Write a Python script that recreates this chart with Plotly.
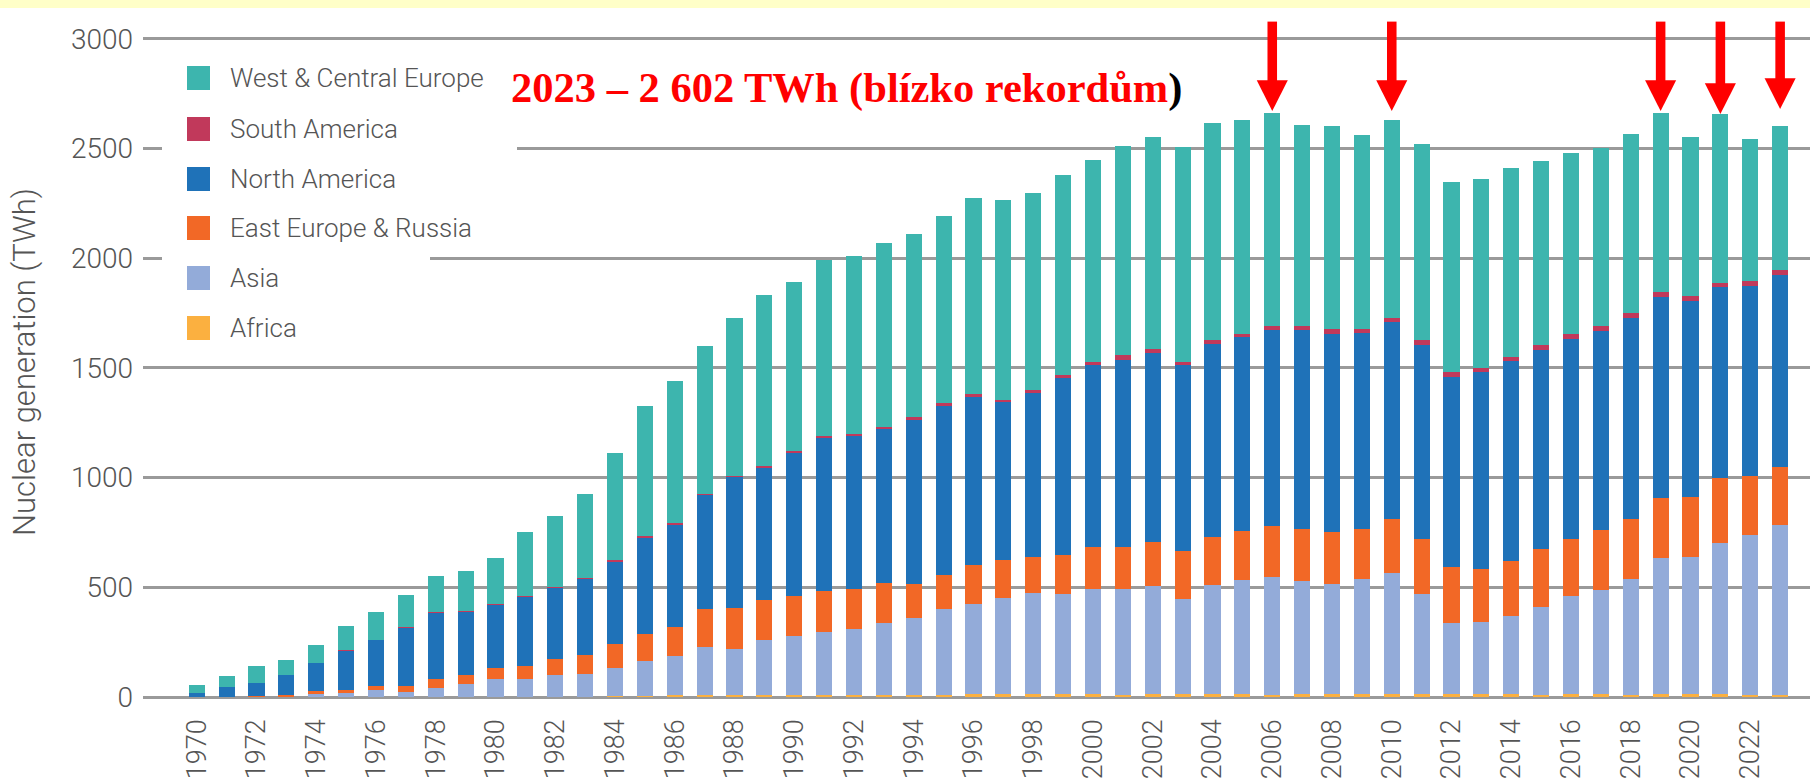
import plotly.graph_objects as go

years = list(range(1970, 2024))
africa = [0, 0, 0, 0, 0, 0, 0, 0, 0, 0, 0, 0, 0, 0,
          5, 5, 9, 7, 11, 11, 8, 9, 10, 7, 9, 11, 12, 12, 14, 13,
          13, 11, 12, 13, 14, 12, 10, 12, 13, 12, 12, 13, 12, 14,
          14, 11, 15, 15, 10, 14, 12, 12, 10, 8]
asia = [1, 2, 3, 4, 12, 18, 31, 21, 43, 58, 81, 81, 99, 107,
        128, 159, 180, 220, 208, 250, 271, 289, 298, 332, 351, 388, 411, 441, 459, 455,
        478, 483, 493, 434, 498, 523, 539, 518, 504, 527, 555, 458, 327, 328,
        353, 399, 446, 472, 529, 621, 626, 688, 728, 774]
east_europe = [0, 0, 3, 4, 14, 12, 20, 29, 38, 41, 49, 61, 75, 84,
               108, 121, 129, 176, 188, 182, 183, 183, 183, 182, 157, 159, 180, 173, 165, 177,
               191, 191, 203, 217, 215, 221, 229, 237, 235, 228, 246, 249, 253, 242,
               253, 266, 259, 273, 274, 274, 275, 297, 271, 267]
north_america = [15, 44, 60, 91, 128, 180, 209, 268, 304, 292, 291, 315, 323, 349,
                 376, 444, 470, 518, 596, 605, 649, 701, 701, 703, 748, 772, 766, 720, 749, 811,
                 832, 852, 860, 847, 884, 884, 894, 905, 904, 892, 895, 885, 868, 895,
                 910, 906, 911, 907, 913, 913, 891, 871, 863, 873]
south_america = [0, 0, 0, 0, 0, 2, 1, 1, 1, 3, 4, 5, 5, 3,
                 7, 6, 4, 2, 6, 7, 10, 7, 8, 8, 9, 9, 12, 9, 12, 10,
                 12, 20, 18, 18, 18, 15, 18, 18, 19, 19, 18, 22, 22, 21,
                 19, 21, 22, 23, 23, 23, 23, 21, 22, 23]
west_central_europe = [37, 49, 75, 71, 81, 112, 125, 148, 164, 180, 210, 292, 325, 382,
                       490, 593, 647, 676, 719, 778, 769, 802, 809, 839, 838, 852, 893, 909, 899, 914,
                       921, 955, 967, 976, 988, 973, 973, 918, 925, 881, 903, 891, 863, 859,
                       861, 838, 824, 812, 815, 815, 725, 766, 650, 657]

series_names = ["Africa", "Asia", "East Europe & Russia", "North America",
                "South America", "West & Central Europe"]
series_values = [africa, asia, east_europe, north_america, south_america, west_central_europe]
series_colors = ["#FBB040", "#93ABD9", "#F26826", "#1F72B8", "#C1395B", "#3DB5AE"]

tick_years = list(range(1970, 2023, 2))
y_ticks = [0, 500, 1000, 1500, 2000, 2500, 3000]

arrow_years = [2006, 2010, 2019, 2021, 2023]
arrow_tips = [2671, 2671, 2671, 2657, 2680]

title_text = "2023 – 2 602 TWh (blízko rekordům"
y_title = "Nuclear generation (TWh)"

# ---- layout geometry (pixels) ----
W, H = 1810, 780
L, R, T, B = 143, 0, 8, 83
PW, PH = W - L - R, H - T - B
PB = H - B


def px(xp):
    return (xp - L) / PW


def py(yp):
    return (PB - yp) / PH


FONT = "Roboto, Liberation Sans, Arial, sans-serif"
GREY = "#555555"

fig = go.Figure()
for name, vals, col in zip(series_names, series_values, series_colors):
    fig.add_trace(go.Bar(x=years, y=vals, name=name, marker_color=col,
                         marker_line_width=0, showlegend=False))

shapes = []
# yellow band at very top
shapes.append(dict(type="rect", xref="paper", yref="paper", x0=px(0), x1=px(W),
                   y0=py(T), y1=py(0), fillcolor="#FFFFC8", line_width=0, layer="above"))
# white masks behind legend (gridline gaps)
shapes.append(dict(type="rect", xref="paper", yref="paper", x0=px(162), x1=px(517),
                   y0=py(205), y1=py(60), fillcolor="white", line_width=0, layer="above"))
shapes.append(dict(type="rect", xref="paper", yref="paper", x0=px(162), x1=px(430),
                   y0=py(355), y1=py(205), fillcolor="white", line_width=0, layer="above"))

annotations = []
# legend (top-down order)
legend_rows = [78, 129, 179, 228, 278, 328]
for i, (name, col) in enumerate(zip(series_names[::-1], series_colors[::-1])):
    yc = legend_rows[i]
    shapes.append(dict(type="rect", xref="paper", yref="paper", x0=px(187), x1=px(210),
                       y0=py(yc + 12), y1=py(yc - 12), fillcolor=col, line_width=0, layer="above"))
    annotations.append(dict(text=name, xref="paper", yref="paper", x=px(228), y=py(yc),
                            xanchor="left", yanchor="middle", showarrow=False,
                            font=dict(family=FONT, size=26, color=GREY, weight=300)))

# arrows
for yr, tip in zip(arrow_years, arrow_tips):
    head = tip + 140
    top = 3078
    shapes.append(dict(type="rect", xref="x", yref="y", x0=yr - 0.16, x1=yr + 0.16,
                       y0=head - 5, y1=top, fillcolor="#FF0000", line_width=0, layer="above"))
    shapes.append(dict(type="path", xref="x", yref="y",
                       path=f"M {yr - 0.52},{head} L {yr + 0.52},{head} L {yr},{tip} Z",
                       fillcolor="#FF0000", line_width=0, layer="above"))

# red headline
annotations.append(dict(
    text=f"<b><span style='color:#FF0000'>{title_text}</span>)</b>",
    xref="paper", yref="paper", x=px(509), y=py(88), xanchor="left", yanchor="middle",
    showarrow=False, font=dict(family="Liberation Serif, Times New Roman, serif", size=42.5,
                               color="#000000")))

# y-axis title
annotations.append(dict(text=y_title, xref="paper", yref="paper", x=px(24), y=py(362),
                        xanchor="center", yanchor="middle", textangle=-90, showarrow=False,
                        font=dict(family=FONT, size=31, color=GREY, weight=300)))

fig.update_layout(
    width=W, height=H,
    margin=dict(l=L, r=R, t=T, b=B, pad=0, autoexpand=False),
    barmode="stack", bargap=0.46,
    plot_bgcolor="white", paper_bgcolor="white",
    showlegend=False,
    shapes=shapes, annotations=annotations,
    xaxis=dict(range=[1968.2, 2024.0], tickmode="array", tickvals=tick_years,
               ticktext=[str(t) for t in tick_years], tickangle=-90,
               showgrid=False, zeroline=False, showline=False, ticks="",
               automargin=False, ticklabelstandoff=16,
               tickfont=dict(family=FONT, size=27, color=GREY, weight=300)),
    yaxis=dict(range=[0, 3140], tickmode="array", tickvals=y_ticks,
               ticktext=[str(t) for t in y_ticks],
               showgrid=True, gridcolor="#9A9A9A", gridwidth=2.6,
               zeroline=True, zerolinecolor="#9A9A9A", zerolinewidth=2.6,
               showline=False, ticks="", ticklabelstandoff=9, automargin=False,
               tickfont=dict(family=FONT, size=28, color=GREY, weight=300)),
)

fig.write_html("out.html", config={"displayModeBar": False},
               post_script="document.body.style.margin='0';document.body.style.overflow='hidden';")
